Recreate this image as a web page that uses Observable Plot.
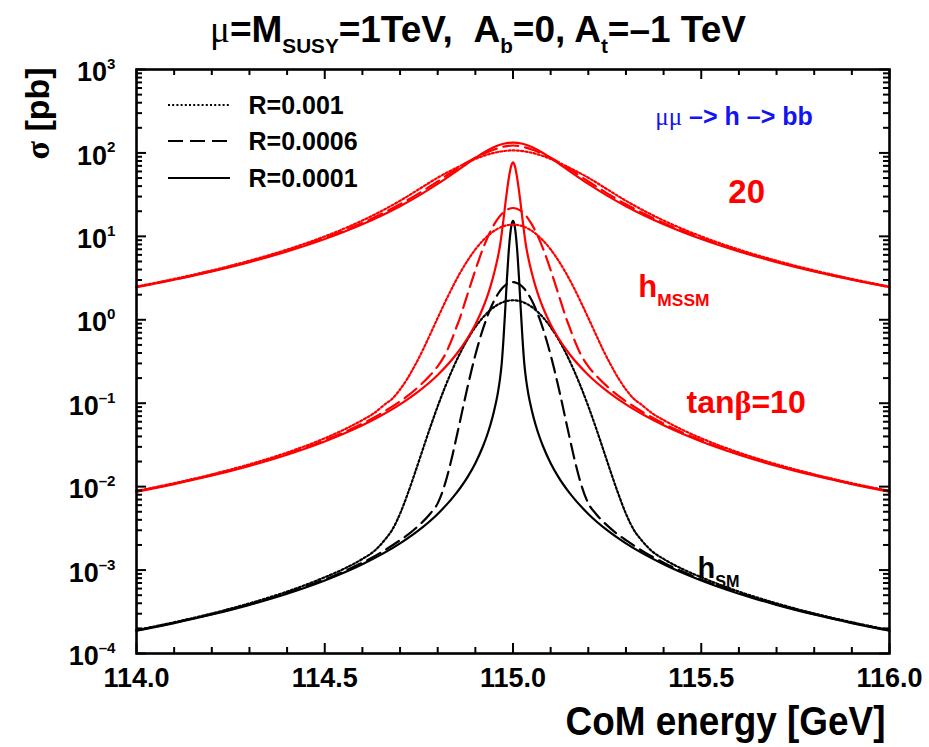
<!DOCTYPE html>
<html>
<head>
<meta charset="utf-8">
<script src="https://cdn.jsdelivr.net/npm/d3@7"></script>
<script src="https://cdn.jsdelivr.net/npm/@observablehq/plot@0.6"></script>
<style>
  html,body{margin:0;padding:0;background:#fff;}
  #fig{position:relative;width:929px;height:747px;overflow:hidden;}
</style>
</head>
<body>
<div id="fig"></div>
<script>
// ---------------- data ----------------
const xMajor = [114.0, 114.5, 115.0, 115.5, 116.0];
const xMinor = [114.1,114.2,114.3,114.4,114.6,114.7,114.8,114.9,115.1,115.2,115.3,115.4,115.6,115.7,115.8,115.9];
const yMajor = [1e-4,1e-3,1e-2,1e-1,1,10,100,1000];
const yMinor = [2e-4,3e-4,4e-4,5e-4,6e-4,7e-4,8e-4,9e-4,2e-3,3e-3,4e-3,5e-3,6e-3,7e-3,8e-3,9e-3,
  0.02,0.03,0.04,0.05,0.06,0.07,0.08,0.09,0.2,0.3,0.4,0.5,0.6,0.7,0.8,0.9,2,3,4,5,6,7,8,9,
  20,30,40,50,60,70,80,90,200,300,400,500,600,700,800,900];

// energies (GeV)
const E_A = [114.0,114.1,114.2,114.3,114.4,114.5,114.55,114.6,114.63,114.66,114.68,114.7,114.72,114.74,114.76,114.78,114.8,114.82,114.84,114.86,114.88,114.9,114.92,114.94,114.96,114.98,115.0,
  115.02,115.04,115.06,115.08,115.1,115.12,115.14,115.16,115.18,115.2,115.22,115.24,115.26,115.28,115.3,115.32,115.34,115.37,115.4,115.45,115.5,115.6,115.7,115.8,115.9,116.0];
const E_B = [114.0,114.1,114.2,114.3,114.4,114.5,114.55,114.6,114.65,114.7,114.72,114.75,114.78,114.8,114.82,114.84,114.85,114.86,114.87,114.88,114.89,114.9,114.91,114.92,114.93,114.94,114.95,114.96,114.97,114.98,114.99,115.0,
  115.01,115.02,115.03,115.04,115.05,115.06,115.07,115.08,115.09,115.1,115.11,115.12,115.13,115.14,115.15,115.16,115.18,115.2,115.22,115.25,115.28,115.3,115.35,115.4,115.45,115.5,115.6,115.7,115.8,115.9,116.0];
const E_C = [114.0,114.1,114.2,114.3,114.4,114.5,114.6,114.7,114.75,114.8,114.85,114.88,114.9,114.92,114.93,114.94,114.95,114.96,114.965,114.97,114.975,114.98,114.984,114.988,114.992,114.996,115.0,
  115.004,115.008,115.012,115.016,115.02,115.025,115.03,115.035,115.04,115.05,115.06,115.07,115.08,115.1,115.12,115.15,115.2,115.25,115.3,115.4,115.5,115.6,115.7,115.8,115.9,116.0];
const E_D = [114.0,114.1,114.2,114.3,114.4,114.5,114.55,114.6,114.65,114.7,114.75,114.8,114.85,114.88,114.9,114.92,114.93,114.94,114.95,114.96,114.965,114.97,114.975,114.98,114.985,114.99,114.995,115.0,
  115.005,115.01,115.015,115.02,115.025,115.03,115.035,115.04,115.05,115.06,115.07,115.08,115.1,115.12,115.15,115.2,115.25,115.3,115.35,115.4,115.45,115.5,115.6,115.7,115.8,115.9,116.0];
const E_R = [114.0,114.1,114.2,114.3,114.4,114.5,114.55,114.6,114.65,114.7,114.75,114.8,114.85,114.875,114.9,114.925,114.95,114.975,115.0,
  115.025,115.05,115.075,115.1,115.125,115.15,115.2,115.25,115.3,115.35,115.4,115.45,115.5,115.6,115.7,115.8,115.9,116.0];

// cross sections (pb)
// h_SM
const S_sm_r1 = [1.91e-4,2.37e-4,3.02e-4,3.99e-4,5.52e-4,8.2e-4,1.03e-3,1.36e-3,1.67e-3,2.32e-3,3.08e-3,4.74e-3,8.13e-3,0.0148,0.0276,0.0512,0.092,0.158,0.259,0.402,0.590,0.816,1.065,1.312,1.522,1.663,1.714,
  1.663,1.522,1.312,1.065,0.816,0.590,0.402,0.259,0.158,0.092,0.0512,0.0276,0.0148,8.13e-3,4.74e-3,3.08e-3,2.32e-3,1.67e-3,1.36e-3,1.03e-3,8.2e-4,5.52e-4,3.99e-4,3.02e-4,2.37e-4,1.91e-4];
const S_sm_r06 = [1.89e-4,2.34e-4,2.96e-4,3.88e-4,5.32e-4,7.72e-4,9.6e-4,1.228e-3,1.629e-3,2.28e-3,2.64e-3,3.43e-3,4.74e-3,6.3e-3,0.0110,0.0247,0.0393,0.0629,0.1017,0.1615,0.251,0.378,0.550,0.772,1.044,1.358,1.698,2.038,2.351,2.603,2.767,2.824,
  2.767,2.603,2.351,2.038,1.698,1.358,1.044,0.772,0.550,0.378,0.251,0.1615,0.1017,0.0629,0.0393,0.0247,0.0110,6.3e-3,4.74e-3,3.43e-3,2.64e-3,2.28e-3,1.629e-3,1.228e-3,9.6e-4,7.72e-4,5.32e-4,3.88e-4,2.96e-4,2.34e-4,1.89e-4];
const S_sm_r01 = [1.875e-4,2.315e-4,2.93e-4,3.83e-4,5.21e-4,7.51e-4,1.174e-3,2.088e-3,3.01e-3,4.71e-3,8.41e-3,0.0132,0.01913,0.0303,0.0399,0.0552,0.0819,0.135,0.189,0.298,0.615,1.495,3.15,6.03,9.92,13.7,15.3,
  13.7,9.92,6.03,3.15,1.495,0.615,0.298,0.189,0.135,0.0819,0.0552,0.0399,0.0303,0.01913,0.0132,8.41e-3,4.71e-3,3.01e-3,2.088e-3,1.174e-3,7.51e-4,5.21e-4,3.83e-4,2.93e-4,2.315e-4,1.875e-4];
// h_MSSM, tan beta = 10
const S_m10_r1 = [8.88e-3,0.01101,0.01404,0.01852,0.02563,0.0380,0.0480,0.0628,0.0755,0.0971,0.114,0.146,0.199,0.287,0.429,0.669,1.052,1.64,2.50,3.68,5.18,6.97,8.90,10.79,12.39,13.46,13.84,
  13.46,12.39,10.79,8.90,6.97,5.18,3.68,2.50,1.64,1.052,0.669,0.429,0.287,0.199,0.146,0.114,0.0971,0.0755,0.0628,0.0480,0.0380,0.02563,0.01852,0.01404,0.01101,8.88e-3];
const S_m10_r06 = [8.76e-3,0.01084,0.01374,0.01802,0.02466,0.03584,0.04457,0.0570,0.0756,0.1055,0.1224,0.159,0.216,0.277,0.384,0.620,0.820,1.08,1.50,2.07,2.87,3.94,5.34,7.07,9.13,11.45,13.93,16.36,18.56,20.33,21.47,21.86,
  21.47,20.33,18.56,16.36,13.93,11.45,9.13,7.07,5.34,3.94,2.87,2.07,1.50,1.08,0.820,0.620,0.384,0.277,0.216,0.159,0.1224,0.1055,0.0756,0.0570,0.04457,0.03584,0.02466,0.01802,0.01374,0.01084,8.76e-3];
const S_m10_r01 = [8.7e-3,0.01074,0.01359,0.01775,0.02416,0.03479,0.04295,0.05435,0.0711,0.0968,0.1395,0.2182,0.3887,0.609,0.880,1.385,1.82,2.50,3.64,5.7,7.5,10.8,16.3,25.2,37.9,53.6,69.5,77,
  69.5,53.6,37.9,25.2,16.3,10.8,7.5,5.7,3.64,2.50,1.82,1.385,0.880,0.609,0.3887,0.2182,0.1395,0.0968,0.0711,0.05435,0.04295,0.03479,0.02416,0.01775,0.01359,0.01074,8.7e-3];
// h_MSSM, tan beta = 20
const S_m20_r1 = [2.502,3.090,3.910,5.103,6.947,9.985,12.30,15.49,20.05,26.7,36.7,50.5,66.4,75.5,84.7,93.2,100.4,105.2,107.2,
  105.2,100.4,93.2,84.7,75.5,66.4,50.5,36.7,26.7,20.05,15.49,12.30,9.985,6.947,5.103,3.910,3.090,2.502];
const S_m20_r06 = [2.471,3.043,3.836,4.977,6.72,9.53,11.64,14.48,18.5,24.2,32.8,45.5,64.2,75.6,87.5,99.0,109.7,118.8,122.7,
  118.8,109.7,99.0,87.5,75.6,64.2,45.5,32.8,24.2,18.5,14.48,11.64,9.53,6.72,4.977,3.836,3.043,2.471];
const S_m20_r01 = [2.454,3.017,3.795,4.91,6.60,9.30,11.30,13.98,17.7,23.0,30.8,42.5,60.6,72.7,86.9,102.5,117.5,128.9,133.2,
  128.9,117.5,102.5,86.9,72.7,60.6,42.5,30.8,23.0,17.7,13.98,11.30,9.30,6.60,4.91,3.795,3.017,2.454];

// legend / labels
const legendLabels = ["R=0.001", "R=0.0006", "R=0.0001"];
const legendDash = ["2,2.2", "15,7", null];
const labelTexts = ["~{μμ} –> h –> bb", "20", "h_{MSSM}", "tan!{β}=10", "h_{SM}"];
const labelE = [115.378, 115.572, 115.333, 115.461, 115.49];
const labelS = [219, 24.8, 1.90, 0.0753, 7.93e-4];
const labelColor = ["#1414f0", "#ff0000", "#ff0000", "#ff0000", "#000000"];
const labelSize = [25, 33, 31, 32, 29];

// ---------------- build ----------------
const RED = "#ff0000", BLK = "#000000";
const series = [
  {E: E_A, S: S_sm_r1,  c: BLK, d: legendDash[0]},
  {E: E_B, S: S_sm_r06, c: BLK, d: legendDash[1]},
  {E: E_C, S: S_sm_r01, c: BLK, d: legendDash[2]},
  {E: E_A, S: S_m10_r1,  c: RED, d: legendDash[0]},
  {E: E_B, S: S_m10_r06, c: RED, d: legendDash[1]},
  {E: E_D, S: S_m10_r01, c: RED, d: legendDash[2]},
  {E: E_R, S: S_m20_r1,  c: RED, d: legendDash[0]},
  {E: E_R, S: S_m20_r06, c: RED, d: legendDash[1]},
  {E: E_R, S: S_m20_r01, c: RED, d: legendDash[2]}
];
series.forEach((s, i) => { if (s.E.length !== s.S.length) console.error("length mismatch in series", i, s.E.length, s.S.length); });

const FONT = '"Liberation Sans",Arial,Helvetica,"DejaVu Sans",sans-serif';
const SERIF = '"Liberation Serif","DejaVu Serif",serif';

const lineMarks = series.map(s => Plot.line(s.E.map((e, i) => ({E: e, S: s.S[i]})), {
  x: "E", y: "S", stroke: s.c, strokeWidth: 2.2,
  strokeDasharray: s.d || undefined, curve: "monotone-x"
}));

const labelMarks = labelTexts.map((t, i) => Plot.text([{t, E: labelE[i], S: labelS[i]}], {
  x: "E", y: "S", text: "t", fill: labelColor[i], textAnchor: "start", lineAnchor: "bottom",
  fontSize: labelSize[i], fontWeight: "bold"}));

const plot = Plot.plot({
  width: 929, height: 747,
  marginLeft: 136, marginRight: 40, marginTop: 69, marginBottom: 94,
  style: {fontFamily: FONT, fontWeight: "bold", background: "#fff", color: "#000"},
  x: {domain: [114, 116]},
  y: {type: "log", domain: [1e-4, 1e3]},
  marks: [
    ...lineMarks,
    // inward ticks on all four sides
    Plot.ruleX(xMajor, {x: d => d, y1: () => 1e-4, y2: () => 1e-4, insetTop: -10, strokeWidth: 2}),
    Plot.ruleX(xMinor, {x: d => d, y1: () => 1e-4, y2: () => 1e-4, insetTop: -6, strokeWidth: 2}),
    Plot.ruleX(xMajor, {x: d => d, y1: () => 1e3, y2: () => 1e3, insetBottom: -10, strokeWidth: 2}),
    Plot.ruleX(xMinor, {x: d => d, y1: () => 1e3, y2: () => 1e3, insetBottom: -6, strokeWidth: 2}),
    Plot.ruleY(yMajor, {y: d => d, x1: () => 114, x2: () => 114, insetRight: -10, strokeWidth: 2}),
    Plot.ruleY(yMinor, {y: d => d, x1: () => 114, x2: () => 114, insetRight: -6, strokeWidth: 2}),
    Plot.ruleY(yMajor, {y: d => d, x1: () => 116, x2: () => 116, insetLeft: -10, strokeWidth: 2}),
    Plot.ruleY(yMinor, {y: d => d, x1: () => 116, x2: () => 116, insetLeft: -6, strokeWidth: 2}),
    Plot.frame({stroke: "#000", strokeWidth: 2.6}),
    Plot.axisX({ticks: xMajor, tickFormat: d3.format(".1f"), tickSize: 0, tickPadding: 14,
      fontSize: 27, fontWeight: "bold", label: null}),
    Plot.axisY({ticks: yMajor, tickFormat: d => "10^{" + String(Math.round(Math.log10(d))).replace("-", "–") + "}",
      tickSize: 0, tickPadding: 21, dy: 3, fontSize: 27, fontWeight: "bold", label: null}),
    // in-plot annotations
    ...labelMarks,
    // title
    Plot.text(["~{μ}=M_{SUSY}=1TeV,\u00a0\u00a0A_{b}=0, A_{t}=–1 TeV"], {frameAnchor: "top", text: d => d,
      dx: -35, dy: -28, lineAnchor: "bottom", fontSize: 37, fontWeight: "bold"}),
    // axis titles
    Plot.text(["!{σ} [pb]"], {frameAnchor: "top-left", text: d => d, rotate: -90, dx: -88, dy: 44,
      textAnchor: "middle", lineAnchor: "bottom", fontSize: 34, fontWeight: "bold"}),
    Plot.text(["CoM energy [GeV]"], {frameAnchor: "bottom-right", text: d => d, dx: -4, dy: 81,
      textAnchor: "end", lineAnchor: "bottom", fontSize: 41, fontWeight: "bold"}),
    // legend labels
    ...legendLabels.map((t, i) => Plot.text([t], {frameAnchor: "top-left", text: d => d,
      dx: 112, dy: [44, 80, 117][i], textAnchor: "start", lineAnchor: "bottom", fontSize: 25, fontWeight: "bold"}))
  ]
});

document.getElementById("fig").appendChild(plot);

// rich text: _{..} subscript, ^{..} superscript, ~{..} serif normal, !{..} serif bold
const SVGNS = "http://www.w3.org/2000/svg";
function richify(el) {
  const s = el.textContent;
  if (!/[_^~!]\{/.test(s)) return;
  const fs = parseFloat(getComputedStyle(el).fontSize) || 20;
  const parts = [];
  const re = /([_^~!])\{([^}]*)\}/g;
  let last = 0, m;
  while ((m = re.exec(s))) {
    if (m.index > last) parts.push({t: s.slice(last, m.index), mode: ""});
    parts.push({t: m[2], mode: m[1]});
    last = re.lastIndex;
  }
  if (last < s.length) parts.push({t: s.slice(last), mode: ""});
  while (el.firstChild) el.removeChild(el.firstChild);
  let shift = 0;
  for (const p of parts) {
    const ts = document.createElementNS(SVGNS, "tspan");
    const target = p.mode === "_" ? fs * 0.30 : p.mode === "^" ? -fs * 0.45 : 0;
    ts.setAttribute("dy", (target - shift).toFixed(2));
    shift = target;
    if (p.mode === "_" || p.mode === "^") ts.setAttribute("font-size", (fs * 0.56).toFixed(1));
    if (p.mode === "~") { ts.setAttribute("font-family", SERIF); ts.setAttribute("font-weight", "normal"); }
    if (p.mode === "!") { ts.setAttribute("font-family", SERIF); }
    ts.textContent = p.t;
    el.appendChild(ts);
  }
}
plot.querySelectorAll("text").forEach(richify);

// narrow look for the x-axis title, like the original
plot.querySelectorAll('[aria-label="text"] text').forEach(el => {
  if (el.textContent === "CoM energy [GeV]") {
    const L = el.getComputedTextLength();
    if (L > 0) { el.setAttribute("textLength", (L * 0.9).toFixed(1)); el.setAttribute("lengthAdjust", "spacingAndGlyphs"); }
  }
});

// legend line samples
const svg = d3.select(plot);
const lg = svg.append("g").attr("aria-label", "legend swatches");
legendLabels.forEach((t, i) => {
  lg.append("line").attr("x1", 168).attr("x2", 230)
    .attr("y1", [105, 141, 178][i]).attr("y2", [105, 141, 178][i])
    .attr("stroke", "#000").attr("stroke-width", 2.2)
    .attr("stroke-dasharray", legendDash[i]);
});
</script>
</body>
</html>
